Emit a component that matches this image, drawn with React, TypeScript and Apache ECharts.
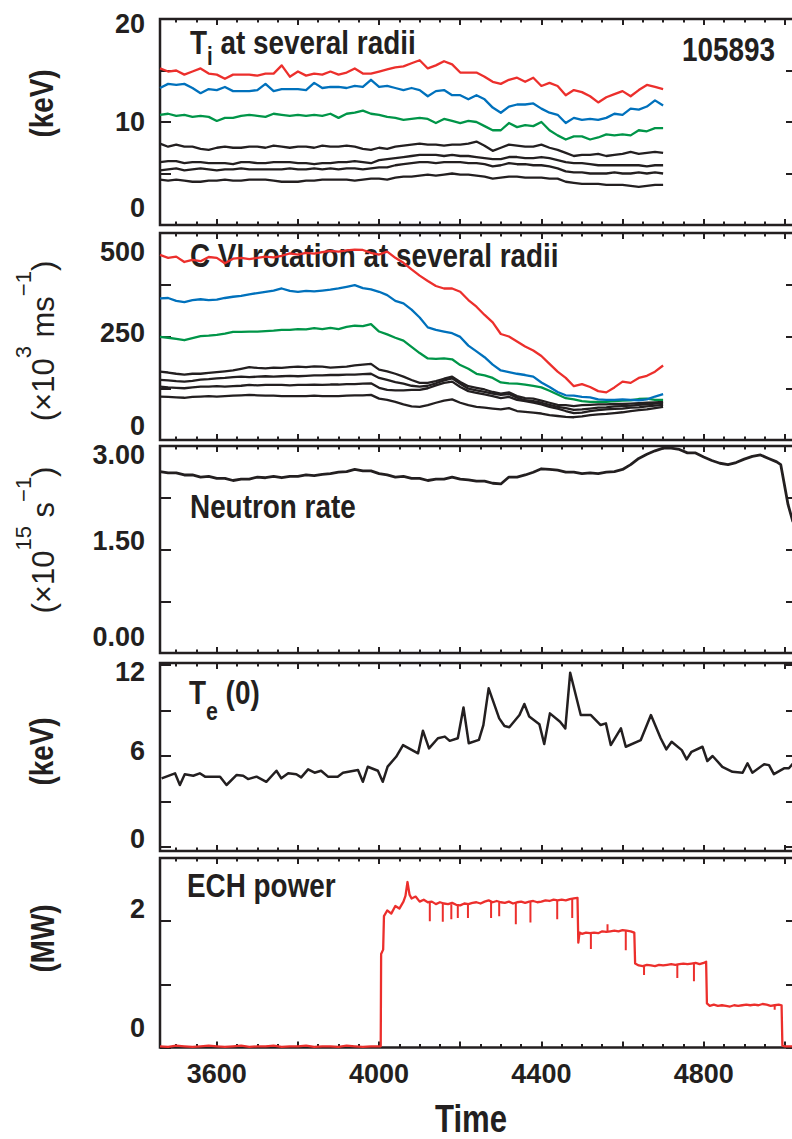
import React, { useEffect, useRef } from 'react';
import * as echarts from 'echarts';

// ---------------- data ----------------
const profTime = [3460, 3480, 3500, 3520, 3540, 3560, 3580, 3600, 3620, 3640, 3660, 3680, 3700, 3720, 3740, 3760, 3780, 3800, 3820, 3840, 3860, 3880, 3900, 3920, 3940, 3960, 3980, 4000, 4020, 4040, 4060, 4080, 4100, 4120, 4140, 4160, 4180, 4200, 4220, 4240, 4260, 4280, 4300, 4320, 4340, 4360, 4380, 4400, 4420, 4440, 4460, 4480, 4500, 4520, 4540, 4560, 4580, 4600, 4620, 4640, 4660, 4680, 4700];

// Ti (keV)
const tiRed = [15.2, 14.9, 15.0, 14.6, 14.9, 15.2, 14.7, 14.6, 14.2, 14.6, 14.6, 14.6, 14.5, 14.7, 14.7, 15.5, 14.4, 14.9, 14.5, 14.7, 14.6, 14.9, 14.6, 14.8, 15.2, 14.7, 14.7, 14.9, 15.1, 15.3, 15.4, 15.7, 16.0, 15.2, 15.5, 15.9, 15.6, 14.8, 14.8, 14.8, 14.4, 13.9, 13.7, 14.1, 14.3, 13.9, 14.3, 13.5, 13.8, 13.5, 12.6, 13.1, 12.9, 12.5, 11.9, 12.4, 12.7, 13.0, 12.5, 13.1, 13.6, 13.4, 13.2];
const tiBlue = [13.3, 13.7, 13.6, 13.7, 13.3, 12.8, 13.2, 13.1, 13.4, 13.0, 13.0, 13.0, 13.1, 13.7, 13.0, 13.2, 13.2, 13.2, 13.1, 13.8, 13.3, 13.4, 13.4, 13.3, 13.5, 13.4, 14.1, 13.4, 13.5, 13.3, 13.1, 13.3, 13.1, 12.5, 13.0, 13.1, 12.6, 12.6, 12.2, 12.6, 12.2, 11.4, 10.9, 11.5, 11.7, 11.7, 11.8, 11.3, 10.9, 10.7, 9.9, 10.4, 10.2, 10.3, 10.2, 10.4, 10.8, 10.7, 11.3, 11.2, 11.5, 12.1, 11.6];
const tiGreen = [10.7, 10.8, 10.6, 10.7, 10.5, 10.6, 10.5, 10.1, 10.4, 10.4, 10.6, 10.7, 10.6, 10.5, 10.8, 10.7, 10.6, 10.7, 10.6, 10.7, 10.6, 10.8, 10.4, 10.8, 10.9, 11.1, 10.8, 10.7, 10.5, 10.4, 10.2, 10.3, 10.4, 10.3, 9.9, 10.3, 10.1, 9.9, 10.1, 10.0, 9.6, 9.2, 9.2, 9.9, 9.5, 9.7, 9.6, 10.0, 9.2, 8.7, 8.3, 8.6, 8.6, 8.3, 8.5, 8.8, 8.7, 8.8, 8.7, 9.2, 9.1, 9.4, 9.4];
const tiBlack1 = [7.9, 7.6, 7.8, 7.6, 7.6, 7.4, 7.3, 7.5, 7.6, 7.5, 7.5, 7.6, 7.6, 7.5, 7.7, 7.6, 7.5, 7.6, 7.6, 7.5, 7.7, 7.6, 7.6, 7.7, 7.6, 7.4, 7.3, 7.5, 7.4, 7.6, 7.7, 7.8, 7.9, 7.8, 7.8, 7.7, 7.8, 7.8, 7.9, 8.1, 7.7, 7.2, 7.5, 7.8, 7.7, 7.6, 7.6, 7.8, 7.5, 7.3, 7.0, 6.7, 6.8, 6.8, 6.9, 6.7, 6.8, 6.9, 7.1, 6.9, 7.0, 7.1, 7.0];
const tiBlack2 = [6.1, 6.2, 6.2, 6.0, 6.1, 6.1, 6.0, 6.0, 6.0, 5.9, 6.1, 6.1, 6.0, 6.0, 6.1, 6.1, 6.1, 6.0, 6.0, 5.9, 6.0, 6.0, 6.1, 6.1, 6.2, 6.1, 6.0, 6.3, 6.4, 6.5, 6.6, 6.7, 6.8, 6.8, 6.8, 6.7, 6.8, 6.7, 6.7, 6.6, 6.5, 6.4, 6.4, 6.6, 6.6, 6.5, 6.5, 6.6, 6.5, 6.3, 6.1, 6.0, 6.0, 5.9, 5.8, 5.8, 5.8, 5.8, 5.8, 5.8, 5.7, 5.8, 5.8];
const tiBlack3 = [5.3, 5.4, 5.5, 5.3, 5.4, 5.5, 5.4, 5.3, 5.4, 5.4, 5.5, 5.4, 5.4, 5.4, 5.4, 5.4, 5.5, 5.4, 5.4, 5.5, 5.4, 5.5, 5.4, 5.5, 5.5, 5.4, 5.5, 5.6, 5.6, 5.8, 5.9, 6.0, 6.1, 6.1, 6.0, 6.1, 6.1, 6.1, 6.0, 6.0, 5.9, 5.7, 5.8, 6.0, 5.9, 5.9, 5.8, 5.8, 5.7, 5.5, 5.2, 5.1, 5.1, 5.0, 5.0, 5.0, 5.1, 5.0, 5.0, 5.1, 5.0, 5.1, 5.0];
const tiBlack4 = [4.4, 4.3, 4.4, 4.3, 4.2, 4.2, 4.3, 4.3, 4.4, 4.3, 4.3, 4.4, 4.4, 4.4, 4.3, 4.2, 4.2, 4.2, 4.3, 4.3, 4.4, 4.4, 4.4, 4.4, 4.3, 4.4, 4.5, 4.5, 4.4, 4.6, 4.7, 4.7, 4.8, 4.9, 4.8, 4.9, 5.0, 4.9, 4.9, 4.8, 4.7, 4.5, 4.6, 4.7, 4.7, 4.6, 4.6, 4.6, 4.5, 4.5, 4.2, 4.1, 4.0, 4.0, 4.0, 3.9, 3.9, 3.9, 3.8, 3.7, 3.8, 3.9, 3.9];

// C VI rotation (x10^3 m/s)
const rotRed = [447, 440, 443, 430, 435, 432, 442, 440, 427, 438, 440, 437, 440, 443, 441, 445, 451, 448, 452, 450, 454, 457, 455, 458, 460, 459, 452, 448, 455, 440, 428, 412, 397, 384, 372, 366, 366, 358, 338, 322, 302, 284, 256, 250, 238, 226, 216, 203, 184, 165, 150, 130, 135, 128, 118, 115, 127, 141, 138, 150, 155, 165, 180];
const rotBlue = [342, 343, 336, 333, 338, 340, 338, 339, 343, 346, 348, 352, 355, 358, 361, 366, 360, 358, 360, 359, 361, 363, 366, 370, 374, 367, 364, 358, 350, 336, 330, 315, 296, 272, 266, 262, 258, 249, 228, 214, 200, 182, 168, 164, 160, 157, 153, 139, 128, 116, 108, 107, 104, 103, 98, 97, 97, 98, 97, 96, 98, 105, 111];
const rotGreen = [249, 247, 244, 241, 246, 251, 252, 254, 257, 261, 261, 262, 262, 263, 264, 266, 266, 268, 267, 270, 268, 271, 268, 273, 276, 275, 280, 262, 255, 247, 240, 225, 210, 197, 196, 197, 195, 181, 172, 160, 156, 150, 139, 137, 136, 134, 131, 127, 119, 110, 101, 98, 94, 92, 92, 92, 94, 95, 96, 99, 100, 97, 97];
const rotBlack1 = [165, 163, 160, 158, 160, 160, 162, 164, 166, 168, 172, 176, 174, 173, 175, 174, 176, 177, 176, 178, 177, 175, 176, 177, 180, 182, 184, 170, 166, 160, 153, 145, 138, 138, 142, 148, 153, 140, 130, 126, 122, 116, 112, 115, 106, 101, 100, 95, 90, 85, 84, 82, 84, 85, 86, 86, 87, 87, 88, 89, 90, 91, 92];
const rotBlack2 = [145, 144, 142, 141, 143, 146, 147, 149, 150, 152, 153, 152, 153, 154, 153, 154, 155, 154, 155, 156, 156, 157, 157, 158, 158, 159, 160, 150, 145, 140, 136, 131, 129, 131, 137, 144, 149, 136, 124, 120, 116, 112, 109, 111, 102, 96, 94, 90, 85, 80, 77, 73, 74, 76, 78, 79, 81, 82, 83, 85, 86, 88, 89];
const rotBlack3 = [129, 127, 126, 125, 127, 129, 129, 130, 129, 130, 131, 133, 132, 133, 133, 133, 132, 133, 133, 134, 133, 134, 134, 135, 135, 136, 137, 126, 121, 120, 120, 121, 121, 125, 132, 138, 141, 128, 118, 114, 110, 106, 101, 104, 97, 94, 90, 86, 80, 76, 70, 65, 66, 70, 72, 74, 75, 76, 78, 79, 81, 83, 85];
const rotBlack4 = [105, 104, 103, 102, 104, 105, 106, 105, 106, 107, 108, 109, 108, 107, 107, 106, 106, 106, 106, 107, 106, 106, 106, 107, 108, 108, 109, 100, 97, 92, 86, 81, 80, 84, 90, 95, 98, 90, 84, 80, 78, 76, 74, 77, 70, 68, 66, 64, 60, 58, 56, 55, 57, 60, 62, 63, 65, 67, 70, 72, 74, 77, 80];

// Neutron rate (x10^15 /s)
const neuTime = [3460, 3480, 3500, 3520, 3540, 3560, 3580, 3600, 3620, 3640, 3660, 3680, 3700, 3720, 3740, 3760, 3780, 3800, 3820, 3840, 3860, 3880, 3900, 3920, 3940, 3960, 3980, 4000, 4020, 4040, 4060, 4080, 4100, 4120, 4140, 4160, 4180, 4200, 4220, 4240, 4260, 4280, 4300, 4320, 4340, 4360, 4380, 4400, 4420, 4440, 4460, 4480, 4500, 4520, 4540, 4560, 4580, 4600, 4620, 4640, 4660, 4680, 4700, 4720, 4740, 4760, 4780, 4800, 4820, 4840, 4860, 4880, 4900, 4920, 4940, 4960, 4980, 4990, 5008, 5020];
const neuVal = [2.63, 2.61, 2.61, 2.58, 2.58, 2.55, 2.56, 2.53, 2.53, 2.50, 2.52, 2.52, 2.55, 2.54, 2.56, 2.54, 2.56, 2.56, 2.58, 2.57, 2.59, 2.60, 2.62, 2.63, 2.66, 2.64, 2.64, 2.60, 2.58, 2.55, 2.56, 2.53, 2.53, 2.50, 2.52, 2.52, 2.55, 2.52, 2.51, 2.49, 2.49, 2.46, 2.45, 2.55, 2.55, 2.58, 2.62, 2.67, 2.66, 2.65, 2.62, 2.62, 2.60, 2.61, 2.60, 2.62, 2.63, 2.66, 2.73, 2.82, 2.88, 2.93, 2.97, 2.97, 2.95, 2.90, 2.90, 2.84, 2.79, 2.75, 2.73, 2.76, 2.81, 2.85, 2.87, 2.82, 2.77, 2.73, 2.15, 1.90];

// Te(0) (keV)
const teTime = [3464, 3497, 3509, 3521, 3542, 3558, 3571, 3608, 3624, 3649, 3665, 3677, 3698, 3722, 3747, 3759, 3776, 3796, 3808, 3825, 3841, 3857, 3874, 3898, 3911, 3948, 3960, 3972, 3997, 4009, 4021, 4042, 4059, 4096, 4108, 4123, 4145, 4162, 4174, 4194, 4208, 4221, 4246, 4257, 4270, 4296, 4309, 4321, 4346, 4358, 4370, 4395, 4407, 4421, 4446, 4459, 4471, 4497, 4522, 4546, 4559, 4571, 4596, 4608, 4645, 4670, 4694, 4708, 4721, 4746, 4758, 4770, 4797, 4809, 4822, 4846, 4871, 4896, 4908, 4920, 4949, 4961, 4973, 4998, 5010, 5020];
const teVal = [4.53, 4.86, 4.09, 4.80, 4.70, 4.86, 4.64, 4.64, 4.09, 4.75, 4.70, 4.48, 4.64, 4.30, 5.03, 4.53, 4.86, 4.80, 4.59, 5.12, 4.90, 5.03, 4.64, 4.64, 4.90, 5.08, 4.30, 5.29, 5.03, 4.30, 5.30, 5.95, 6.72, 6.18, 7.67, 6.50, 7.17, 7.28, 7.00, 7.17, 9.20, 6.84, 7.06, 8.04, 10.46, 8.48, 7.98, 7.90, 8.70, 9.43, 8.60, 8.10, 6.79, 8.81, 8.26, 7.82, 11.49, 8.70, 8.70, 8.04, 8.15, 6.72, 7.82, 6.61, 7.05, 8.70, 7.17, 6.44, 6.94, 6.39, 5.78, 6.28, 6.61, 5.67, 6.00, 5.29, 4.96, 4.90, 5.52, 4.90, 5.46, 5.40, 4.81, 5.19, 5.19, 5.50];

// ECH power (MW)
const echTime = [3460, 3480, 3500, 3520, 3540, 3560, 3580, 3600, 3620, 3640, 3660, 3680, 3700, 3720, 3740, 3760, 3780, 3800, 3820, 3840, 3860, 3880, 3900, 3920, 3940, 3960, 3980, 4000, 4004, 4005, 4010, 4012, 4020, 4030, 4040, 4050, 4060, 4065, 4070, 4075, 4080, 4090, 4100, 4110, 4120, 4130, 4140, 4150, 4160, 4170, 4180, 4190, 4200, 4210, 4220, 4230, 4240, 4250, 4260, 4270, 4280, 4290, 4300, 4310, 4320, 4330, 4340, 4350, 4360, 4370, 4380, 4390, 4400, 4410, 4420, 4430, 4440, 4450, 4460, 4470, 4480, 4489, 4491, 4494, 4500, 4510, 4520, 4530, 4540, 4550, 4560, 4570, 4580, 4590, 4600, 4610, 4620, 4629, 4631, 4640, 4650, 4660, 4670, 4680, 4690, 4700, 4710, 4720, 4730, 4740, 4750, 4760, 4770, 4780, 4790, 4800, 4806, 4808, 4815, 4825, 4835, 4845, 4855, 4865, 4875, 4885, 4895, 4905, 4915, 4925, 4935, 4945, 4955, 4965, 4975, 4985, 4992, 4994, 5000, 5015, 5030];
const echVal = [0.02, 0.01, 0.03, 0.02, 0.01, 0.02, 0.03, 0.02, 0.01, 0.02, 0.03, 0.01, 0.02, 0.02, 0.03, 0.01, 0.02, 0.02, 0.03, 0.01, 0.02, 0.02, 0.01, 0.03, 0.02, 0.01, 0.02, 0.02, 0.02, 1.48, 1.55, 2.08, 2.17, 2.12, 2.24, 2.20, 2.31, 2.40, 2.62, 2.42, 2.36, 2.39, 2.31, 2.34, 2.30, 2.31, 2.27, 2.30, 2.28, 2.27, 2.29, 2.26, 2.25, 2.28, 2.27, 2.29, 2.30, 2.28, 2.31, 2.33, 2.30, 2.32, 2.30, 2.29, 2.31, 2.28, 2.30, 2.31, 2.29, 2.31, 2.32, 2.30, 2.31, 2.33, 2.32, 2.34, 2.33, 2.34, 2.33, 2.35, 2.36, 2.37, 1.66, 1.82, 1.80, 1.82, 1.81, 1.82, 1.81, 1.84, 1.83, 1.84, 1.85, 1.84, 1.86, 1.85, 1.84, 1.82, 1.33, 1.30, 1.29, 1.31, 1.30, 1.29, 1.31, 1.30, 1.31, 1.32, 1.31, 1.32, 1.33, 1.32, 1.33, 1.34, 1.32, 1.34, 1.36, 0.70, 0.66, 0.68, 0.66, 0.67, 0.66, 0.65, 0.67, 0.66, 0.67, 0.68, 0.67, 0.68, 0.67, 0.69, 0.68, 0.66, 0.67, 0.68, 0.67, 0.03, 0.02, 0.02, 0.02];
// short dropouts / spikes of the ECH trace
const echSpikeTime = [4125, 4157, 4178, 4194, 4219, 4276, 4296, 4337, 4373, 4439, 4476, 4522, 4563, 4608, 4653, 4735, 4776, 4975];
const echSpikeFrom = [2.30, 2.29, 2.27, 2.26, 2.27, 2.32, 2.30, 2.30, 2.31, 2.33, 2.35, 1.82, 1.84, 1.85, 1.30, 1.32, 1.33, 0.68];
const echSpikeTo = [2.00, 1.99, 2.03, 2.05, 2.05, 2.05, 2.08, 1.95, 1.98, 2.03, 2.05, 1.56, 1.95, 1.54, 1.15, 1.10, 1.05, 0.60];

// axis tick labels
const xTickLabels = [3600, 4000, 4400, 4800];
const p1Labels = ['0', '10', '20'];
const p2Labels = ['0', '250', '500'];
const p3Labels = ['0.00', '1.50', '3.00'];
const p4Labels = ['0', '6', '12'];
const p5Labels = ['0', '2'];

// ---------------- styling / layout ----------------
const INK = '#231f20';
const RED = '#ec2f2c';
const BLUE = '#0071bc';
const GREEN = '#009548';
const FONT = "'Liberation Sans', Arial, Helvetica, sans-serif";
const NARROW = 0.82;
const X_MIN = 3460;
const X_MAX = 5030;
const GRID_LEFT = 160;
const GRID_WIDTH = 637;

interface PanelCfg {
  top: number; height: number; min: number; max: number;
  interval?: number; splitNumber?: number;
  labels: { v: number; text: string; dy: number }[];
}

const panels: PanelCfg[] = [
  { top: 19, height: 206, min: 0, max: 20, interval: 5,
    labels: [{ v: 0, text: p1Labels[0], dy: -17 }, { v: 10, text: p1Labels[1], dy: 0 }, { v: 20, text: p1Labels[2], dy: 4.5 }] },
  { top: 233, height: 207, min: 0, max: 500, interval: 125,
    labels: [{ v: 0, text: p2Labels[0], dy: -14 }, { v: 250, text: p2Labels[1], dy: -4 }, { v: 500, text: p2Labels[2], dy: 19 }] },
  { top: 446, height: 207, min: 0, max: 3, interval: 0.75,
    labels: [{ v: 0, text: p3Labels[0], dy: -16 }, { v: 1.5, text: p3Labels[1], dy: -9 }, { v: 3, text: p3Labels[2], dy: 9 }] },
  { top: 663, height: 188, min: -0.26, max: 12.13, splitNumber: 4,
    labels: [{ v: 0, text: p4Labels[0], dy: -8 }, { v: 6, text: p4Labels[1], dy: -5 }, { v: 12, text: p4Labels[2], dy: 7 }] },
  { top: 858, height: 189.6, min: 0, max: 3, interval: 1,
    labels: [{ v: 0, text: p5Labels[0], dy: -20 }, { v: 2, text: p5Labels[1], dy: -12 }] },
];

const tickStyle = { color: INK, width: 2 };
const labelFont = { fontSize: 27, fontWeight: 'bold' as const, fontFamily: FONT, color: INK };

function buildOption() {
  const grid: any[] = [];
  const xAxis: any[] = [];
  const yAxis: any[] = [];
  panels.forEach((p, g) => {
    grid.push({ left: GRID_LEFT, top: p.top, width: GRID_WIDTH, height: p.height, show: true,
      borderColor: INK, borderWidth: 2.5, backgroundColor: 'transparent', containLabel: false, outerBoundsMode: 'none' });
    const xb = { type: 'value', gridIndex: g, min: X_MIN, max: X_MAX, axisLine: { show: false, onZero: false },
      splitLine: { show: false }, axisLabel: { show: false } };
    const isLast = g === panels.length - 1;
    xAxis.push({ ...xb, position: 'bottom', splitNumber: 8,
      axisTick: { show: true, inside: true, length: 6, lineStyle: tickStyle },
      axisLabel: isLast ? { show: true, ...labelFont, margin: 13, showMinLabel: false, showMaxLabel: false,
        formatter: (v: number) => (xTickLabels.indexOf(Math.round(v)) >= 0 && Math.abs(v - Math.round(v)) < 1e-6 ? String(Math.round(v)) : '') } : { show: false } });
    xAxis.push({ ...xb, position: 'bottom', splitNumber: 31,
      axisTick: { show: true, inside: true, length: 3.5, lineStyle: tickStyle } });
    xAxis.push({ ...xb, position: 'top', splitNumber: 8,
      axisTick: { show: true, inside: true, length: 6, lineStyle: tickStyle } });
    xAxis.push({ ...xb, position: 'top', splitNumber: 31,
      axisTick: { show: true, inside: true, length: 3.5, lineStyle: tickStyle } });

    const rich: any = {};
    p.labels.forEach((l, i) => {
      const pt = Math.max(0, 2 * l.dy);
      const pb = Math.max(0, -2 * l.dy);
      rich['s' + i] = { ...labelFont, padding: [pt, 0, pb, 0] };
    });
    const yb: any = { type: 'value', gridIndex: g, min: p.min, max: p.max,
      axisLine: { show: false, onZero: false }, splitLine: { show: false },
      axisTick: { show: true, inside: true, length: 11, lineStyle: tickStyle } };
    if (p.interval !== undefined) yb.interval = p.interval;
    if (p.splitNumber !== undefined) yb.splitNumber = p.splitNumber;
    yAxis.push({ ...yb, position: 'left',
      axisLabel: { show: true, ...labelFont, margin: 15, rich,
        formatter: (v: number) => {
          const idx = p.labels.findIndex((l) => Math.abs(l.v - v) < 1e-6);
          return idx >= 0 ? `{s${idx}|${p.labels[idx].text}}` : '';
        } } });
    yAxis.push({ ...yb, position: 'right', axisLabel: { show: false } });
  });

  const line = (g: number, t: number[], v: number[], color: string, width = 2.3, z = 3) => ({
    type: 'line', xAxisIndex: 4 * g, yAxisIndex: 2 * g,
    data: t.map((tt, i) => [tt, v[i]]),
    showSymbol: false, symbol: 'none', clip: true, silent: true, z,
    lineStyle: { color, width, join: 'round' },
  });

  const series: any[] = [
    line(0, profTime, tiBlack4, INK), line(0, profTime, tiBlack3, INK), line(0, profTime, tiBlack2, INK), line(0, profTime, tiBlack1, INK),
    line(0, profTime, tiGreen, GREEN), line(0, profTime, tiBlue, BLUE), line(0, profTime, tiRed, RED),
    line(1, profTime, rotBlack4, INK), line(1, profTime, rotBlack3, INK), line(1, profTime, rotBlack2, INK), line(1, profTime, rotBlack1, INK),
    line(1, profTime, rotGreen, GREEN, 2.3, 4), line(1, profTime, rotBlue, BLUE, 2.3, 4), line(1, profTime, rotRed, RED, 2.3, 4),
    line(2, neuTime, neuVal, INK, 2.8),
    line(3, teTime, teVal, INK, 2.5),
    line(4, echTime, echVal, RED, 2.3, 5),
    {
      type: 'custom', xAxisIndex: 16, yAxisIndex: 8, silent: true, z: 5, clip: true,
      data: echSpikeTime.map((t, i) => [t, echSpikeFrom[i], echSpikeTo[i]]),
      encode: { x: 0, y: [1, 2] },
      renderItem: (_params: any, api: any) => {
        const a = api.coord([api.value(0), api.value(1)]);
        const b = api.coord([api.value(0), api.value(2)]);
        return { type: 'line', shape: { x1: a[0], y1: a[1], x2: b[0], y2: b[1] }, style: { stroke: RED, lineWidth: 2 } };
      },
    },
  ];

  const tok = (size: number, weight: string, extra: any = {}) => ({
    fontSize: size, fontWeight: weight, fontFamily: FONT, fill: INK, lineHeight: 44, verticalAlign: 'middle', ...extra });

  const narrowTitle = (x: number, y: number, text: string, size = 34, align = 'left') => ({
    type: 'text', x, y, scaleX: NARROW, silent: true,
    style: { text, fontSize: size, fontWeight: 'bold', fontFamily: FONT, fill: INK, align, verticalAlign: 'middle' },
  });

  const graphic: any[] = [
    {
      type: 'text', x: 190, y: 43, scaleX: NARROW, silent: true,
      style: { text: '{m|T}{s|i}{m| at several radii}', align: 'left', verticalAlign: 'middle',
        rich: { m: tok(34, 'bold'), s: tok(25, 'bold', { padding: [26, 0, 0, 0] }) } },
    },
    narrowTitle(190, 256, 'C VI rotation at several radii'),
    narrowTitle(190, 506.5, 'Neutron rate'),
    {
      type: 'text', x: 189, y: 693, scaleX: NARROW, silent: true,
      style: { text: '{m|T}{s|e}{m| (0)}', align: 'left', verticalAlign: 'middle',
        rich: { m: tok(34, 'bold'), s: tok(26, 'bold', { padding: [36, 0, 0, 0] }) } },
    },
    narrowTitle(187, 886, 'ECH power'),
    narrowTitle(682, 49.5, '105893'),
    narrowTitle(471, 1119, 'Time', 38, 'center'),
    // y-axis titles (rotated)
    { type: 'text', x: 42, y: 103.5, rotation: Math.PI / 2, scaleX: NARROW, silent: true,
      style: { text: '(keV)', fontSize: 34, fontWeight: 'bold', fontFamily: FONT, fill: INK, align: 'center', verticalAlign: 'middle' } },
    { type: 'text', x: 43, y: 341, rotation: Math.PI / 2, silent: true,
      style: { text: '{m|(\u00d710}{u|3}{m| ms}{u|\u22121}{m|)}', align: 'center', verticalAlign: 'middle',
        rich: { m: tok(31, 'normal'), u: tok(22, 'normal', { padding: [0, 0, 40, 0] }) } } },
    { type: 'text', x: 43, y: 540, rotation: Math.PI / 2, silent: true,
      style: { text: '{m|(\u00d710}{u|15}{m| s}{u|\u22121}{m|)}', align: 'center', verticalAlign: 'middle',
        rich: { m: tok(31, 'normal'), u: tok(22, 'normal', { padding: [0, 0, 40, 0] }) } } },
    { type: 'text', x: 42, y: 751.5, rotation: Math.PI / 2, scaleX: NARROW, silent: true,
      style: { text: '(keV)', fontSize: 34, fontWeight: 'bold', fontFamily: FONT, fill: INK, align: 'center', verticalAlign: 'middle' } },
    { type: 'text', x: 43, y: 938.5, rotation: Math.PI / 2, scaleX: NARROW, silent: true,
      style: { text: '(MW)', fontSize: 34, fontWeight: 'bold', fontFamily: FONT, fill: INK, align: 'center', verticalAlign: 'middle' } },
  ];

  return {
    animation: false,
    backgroundColor: '#ffffff',
    grid, xAxis, yAxis, series, graphic,
  };
}

export default function App() {
  const ref = useRef<HTMLDivElement>(null);
  useEffect(() => {
    if (!ref.current) return;
    const chart = echarts.init(ref.current, undefined, { renderer: 'svg' });
    chart.setOption(buildOption() as any);
    return () => chart.dispose();
  }, []);
  return (
    <div ref={ref} style={{ position: 'absolute', left: 0, top: 0, width: 792, height: 1139, background: '#fff' }} />
  );
}
